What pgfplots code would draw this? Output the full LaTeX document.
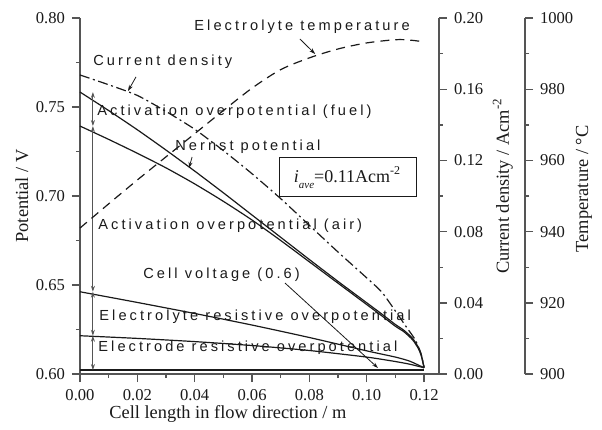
\documentclass[border=0pt]{standalone}
\usepackage{fontspec}
\setmainfont{Liberation Serif}
\newfontfamily\annfont[LetterSpace=21]{Liberation Sans}
\usepackage{pgfplots}
\pgfplotsset{compat=1.18}
\usetikzlibrary{arrows.meta}
\definecolor{axgray}{HTML}{555555}
\definecolor{ink}{HTML}{1A1A1A}
\pgfplotsset{
  base/.style={scale only axis, width=179.5pt, height=178pt, xmin=0, xmax=0.1252,
    scaled ticks=false,
    /pgf/number format/assume math mode=true,
    /pgf/number format/1000 sep={},
    tick align=outside, major tick length=4pt, minor tick length=2pt,
    every tick/.style={axgray, line width=0.7pt},
    axis line style={axgray, line width=0.9pt, -},
    tick label style={font=\fontsize{8.3}{10}\selectfont, ink},
    every axis label/.style={font=\fontsize{9.2}{11}\selectfont, ink},
    clip=false,
  },
  curve/.style={ink, line width=0.6pt, smooth, tension=0.4, mark=none},
}
\tikzset{
  ann/.style={font=\annfont\fontsize{7.3}{8}\selectfont, ink, anchor=base west, inner sep=0pt},
  arr/.style={ink, line width=0.4pt, -{Stealth[length=3pt,width=2pt]}},
  darr/.style={axgray, line width=0.45pt, {Stealth[length=3pt,width=2pt]}-{Stealth[length=3pt,width=2pt]}},
}
\begin{document}
\begin{tikzpicture}
\path[use as bounding box] (-40pt,-28pt) rectangle (261pt,187pt);
% main potential axis
\begin{axis}[base, ymin=0.6, ymax=0.8,
  axis x line*=bottom, axis y line*=left,
  xtick={0,0.02,0.04,0.06,0.08,0.10,0.12}, minor x tick num=1,
  ytick={0.6,0.65,0.7,0.75,0.8}, minor y tick num=1,
  xticklabel style={/pgf/number format/.cd, fixed, fixed zerofill, precision=2},
  yticklabel style={/pgf/number format/.cd, fixed, fixed zerofill, precision=2},
  xlabel={Cell length in flow direction / m}, ylabel={Potential / V},
  every axis x label/.style={at={(axis description cs:0.412,-0.113)}, anchor=center},
  every axis y label/.style={at={(axis description cs:-0.1616,0.5)}, anchor=center, rotate=90},
]
% Nernst potential
\addplot[curve] coordinates {(0,0.7584) (0.01,0.7480) (0.02,0.7372) (0.03,0.7258) (0.04,0.7140) (0.05,0.7018) (0.06,0.6893) (0.07,0.6768) (0.08,0.6643) (0.09,0.6520) (0.10,0.6400) (0.105,0.6340) (0.11,0.6278) (0.113,0.6245) (0.116,0.6200) (0.118,0.6150) (0.119,0.6110) (0.12,0.6035)};
% minus activation (fuel)
\addplot[curve] coordinates {(0,0.7393) (0.01,0.7318) (0.02,0.7240) (0.03,0.7158) (0.04,0.7068) (0.05,0.6970) (0.06,0.6865) (0.07,0.6750) (0.08,0.6630) (0.09,0.6510) (0.10,0.6390) (0.105,0.6330) (0.11,0.6268) (0.113,0.6237) (0.116,0.6192) (0.118,0.6143) (0.119,0.6103) (0.12,0.6035)};
% minus activation (air)
\addplot[curve] coordinates {(0,0.6462) (0.02,0.6402) (0.04,0.6340) (0.06,0.6275) (0.08,0.6205) (0.10,0.6130) (0.11,0.6095) (0.115,0.6072) (0.12,0.6035)};
% minus electrolyte resistive
\addplot[curve] coordinates {(0,0.6215) (0.02,0.6200) (0.04,0.6182) (0.06,0.6160) (0.08,0.6132) (0.10,0.6095) (0.11,0.6070) (0.115,0.6055) (0.12,0.6035)};
% cell voltage
\addplot[ink, line width=0.6pt] coordinates {(0,0.6022) (0.12,0.6022)};
% vertical arrows
\draw[darr] (axis cs:0.0045,0.7584) -- (axis cs:0.0045,0.7393);
\draw[darr] (axis cs:0.0045,0.7393) -- (axis cs:0.0045,0.6462);
\draw[darr] (axis cs:0.0045,0.6462) -- (axis cs:0.0045,0.6215);
\draw[darr] (axis cs:0.0045,0.6215) -- (axis cs:0.0045,0.6022);
% annotations
\node[ann] at (axis cs:0.03976,0.7928) {Electrolyte temperature};
\node[ann] at (axis cs:0.00453,0.7732) {Current density};
\node[ann] at (axis cs:0.00593,0.7455) {Activation overpotential (fuel)};
\node[ann] at (axis cs:0.0331,0.7258) {Nernst potential};
\node[ann] at (axis cs:0.00628,0.6813) {Activation overpotential (air)};
\node[ann] at (axis cs:0.02197,0.6534) {Cell voltage (0.6)};
\node[ann] at (axis cs:0.00663,0.6303) {Electrolyte resistive overpotential};
\node[ann] at (axis cs:0.00628,0.6125) {Electrode resistive overpotential};
\draw[arr] (axis cs:0.0767,0.7882) -- (axis cs:0.0820,0.7798);
\draw[arr] (axis cs:0.01953,0.7669) -- (axis cs:0.01674,0.7590);
\draw[arr] (axis cs:0.0391,0.7219) -- (axis cs:0.0380,0.7157);
\draw[arr] (axis cs:0.0715,0.6511) -- (axis cs:0.1039,0.6034);
\node[draw=ink, line width=0.5pt, minimum width=68.5pt, minimum height=19.5pt, inner sep=0pt, font=\fontsize{9}{10}\selectfont, ink]
  at (axis cs:0.0933,0.7104) {\textit{i}\raisebox{-0.7ex}{\fontsize{5.5}{6}\selectfont\textit{ave}}=0.11Acm\textsuperscript{-2}};
\end{axis}
% current density axis
\begin{axis}[base, ymin=0, ymax=0.2,
  hide x axis, axis y line*=right,
  ytick={0,0.04,0.08,0.12,0.16,0.2}, minor y tick num=1,
  yticklabel style={/pgf/number format/.cd, fixed, fixed zerofill, precision=2},
  ylabel={Current density / Acm\textsuperscript{-2}},
  every axis y label/.style={at={(axis description cs:1.178,0.528)}, anchor=center, rotate=90},
]
\addplot[ink, line width=0.6pt, smooth, tension=0.4, dash pattern=on 5pt off 1.8pt on 1pt off 1.8pt] coordinates {(0,0.168) (0.01,0.1625) (0.02,0.1565) (0.03,0.1475) (0.04,0.1375) (0.05,0.1255) (0.06,0.1125) (0.07,0.0985) (0.08,0.0835) (0.09,0.0685) (0.10,0.054) (0.105,0.0465) (0.108,0.040) (0.111,0.033) (0.114,0.0260) (0.117,0.019) (0.119,0.011) (0.12,0.004)};
\end{axis}
% temperature data axis (hidden)
\begin{axis}[base, ymin=900, ymax=1000, hide axis]
\addplot[ink, line width=0.6pt, smooth, tension=0.5, dash pattern=on 4.5pt off 3pt] coordinates {(0,941) (0.01,947.8) (0.02,954.5) (0.03,961) (0.04,967.5) (0.05,974) (0.06,980.3) (0.07,985.5) (0.08,988.8) (0.09,991.3) (0.10,993) (0.11,993.9) (0.115,993.8) (0.12,993.3)};
\end{axis}
% temperature axis (shifted)
\begin{axis}[base, at={(43pt,0pt)}, ymin=900, ymax=1000,
  hide x axis, axis y line*=right,
  ytick={900,920,940,960,980,1000}, minor y tick num=1,
  ylabel={Temperature / °C},
  every axis y label/.style={at={(axis description cs:1.164,0.52)}, anchor=center, rotate=90},
]
\end{axis}
\end{tikzpicture}
\end{document}
